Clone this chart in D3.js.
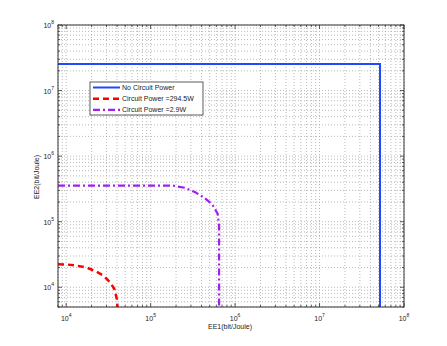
<!DOCTYPE html>
<html>
<head>
<meta charset="UTF-8">
<title>EE region</title>
<style>
  body { margin: 0; background: #fff; }
  text { font-family: "Liberation Sans", Arial, sans-serif; fill: #222; }
</style>
</head>
<body>
<div id="chart"></div>
<script src="https://cdn.jsdelivr.net/npm/d3@7"></script>
<script>
// data (EE1, EE2 in bit/Joule)
var noPowerX = [8000, 5.2e7, 5.2e7];
var noPowerY = [2.55e7, 2.55e7, 5000];

var cp294X = [8000, 1e4, 1.33e4, 1.75e4, 2.21e4, 2.76e4, 3.34e4, 3.73e4, 3.98e4, 4.05e4];
var cp294Y = [2.24e4, 2.23e4, 2.14e4, 1.99e4, 1.77e4, 1.51e4, 1.18e4, 9300, 6600, 5000];

var cp29X = [8000, 1.8e5, 2.54e5, 3.34e5, 4.31e5, 5.37e5, 6.22e5, 6.46e5, 6.46e5];
var cp29Y = [3.56e5, 3.56e5, 3.29e5, 2.83e5, 2.32e5, 1.83e5, 1.32e5, 8.8e4, 5000];

var legendLabels = ["No Circuit Power", "Circuit Power =294.5W", "Circuit Power =2.9W"];
var xTickExp = [4, 5, 6, 7, 8];
var yTickExp = [4, 5, 6, 7, 8];

var W = 447, H = 346;
var m = {left: 58, right: 43, top: 25, bottom: 39};

var svg = d3.select("#chart").append("svg").attr("width", W).attr("height", H);

var x = d3.scaleLog().domain([8000, 1e8]).range([m.left, W - m.right]);
var y = d3.scaleLog().domain([5000, 1e8]).range([H - m.bottom, m.top]);

// all tick positions (major + minor)
function logTicks(lo, hi) {
    var out = [];
    for (var e = 3; e <= 8; e++) {
        for (var k = 1; k <= 9; k++) {
            var v = k * Math.pow(10, e);
            if (v >= lo && v <= hi) out.push({v: v, major: k === 1});
        }
    }
    return out;
}
var xt = logTicks(8000, 1e8), yt = logTicks(5000, 1e8);

// grid
var g = svg.append("g");
g.selectAll(".gx").data(xt).enter().append("line")
    .attr("x1", function(d){ return x(d.v); }).attr("x2", function(d){ return x(d.v); })
    .attr("y1", m.top).attr("y2", H - m.bottom)
    .attr("stroke", "#aaa").attr("stroke-width", 0.8).attr("stroke-dasharray", "1,2");
g.selectAll(".gy").data(yt).enter().append("line")
    .attr("y1", function(d){ return y(d.v); }).attr("y2", function(d){ return y(d.v); })
    .attr("x1", m.left).attr("x2", W - m.right)
    .attr("stroke", "#aaa").attr("stroke-width", 0.8).attr("stroke-dasharray", "1,2");

// curves
var line = d3.line().x(function(d){ return x(d[0]); }).y(function(d){ return y(d[1]); });
var series = [
    {x: noPowerX, y: noPowerY, color: "#1f48ff", dash: null, w: 2},
    {x: cp294X, y: cp294Y, color: "#ff0000", dash: "6,4", w: 2.5},
    {x: cp29X, y: cp29Y, color: "#a020f0", dash: "7,3,2,3", w: 2.2}
];
series.forEach(function(s) {
    var pts = s.x.map(function(v, i){ return [v, s.y[i]]; });
    svg.append("path").attr("d", line(pts)).attr("fill", "none")
        .attr("stroke", s.color).attr("stroke-width", s.w)
        .attr("stroke-dasharray", s.dash);
});

// ticks inward on all four sides
var tk = svg.append("g").attr("stroke", "#333").attr("stroke-width", 0.8);
xt.forEach(function(d) {
    var len = d.major ? 4 : 2;
    tk.append("line").attr("x1", x(d.v)).attr("x2", x(d.v)).attr("y1", H - m.bottom).attr("y2", H - m.bottom - len);
    tk.append("line").attr("x1", x(d.v)).attr("x2", x(d.v)).attr("y1", m.top).attr("y2", m.top + len);
});
yt.forEach(function(d) {
    var len = d.major ? 4 : 2;
    tk.append("line").attr("y1", y(d.v)).attr("y2", y(d.v)).attr("x1", m.left).attr("x2", m.left + len);
    tk.append("line").attr("y1", y(d.v)).attr("y2", y(d.v)).attr("x1", W - m.right).attr("x2", W - m.right - len);
});

svg.append("rect").attr("x", m.left).attr("y", m.top)
    .attr("width", W - m.left - m.right).attr("height", H - m.top - m.bottom)
    .attr("fill", "none").attr("stroke", "#333").attr("stroke-width", 1);

// tick labels 10^n
xTickExp.forEach(function(e) {
    var t = svg.append("text").attr("x", x(Math.pow(10, e))).attr("y", H - m.bottom + 14)
        .attr("text-anchor", "middle").style("font-size", "7px");
    t.append("tspan").text("10");
    t.append("tspan").attr("dy", -4).style("font-size", "5px").text(e);
});
yTickExp.forEach(function(e) {
    var t = svg.append("text").attr("x", m.left - 4).attr("y", y(Math.pow(10, e)) + 3)
        .attr("text-anchor", "end").style("font-size", "7px");
    t.append("tspan").text("10");
    t.append("tspan").attr("dy", -4).style("font-size", "5px").text(e);
});

// axis titles
svg.append("text").attr("x", 230).attr("y", 329).attr("text-anchor", "middle")
    .style("font-size", "7px").text("EE1(bit/Joule)");
svg.append("text").attr("transform", "translate(39,177) rotate(-90)").attr("text-anchor", "middle")
    .style("font-size", "7px").text("EE2(bit/Joule)");

// legend
var lg = svg.append("g").attr("transform", "translate(90,82)");
lg.append("rect").attr("width", 113).attr("height", 33)
    .attr("fill", "#fff").attr("stroke", "#333").attr("stroke-width", 0.8);
legendLabels.forEach(function(lbl, i) {
    var yy = 5.5 + i * 11.2;
    lg.append("line").attr("x1", 3).attr("x2", 30).attr("y1", yy).attr("y2", yy)
        .attr("stroke", series[i].color).attr("stroke-width", series[i].w)
        .attr("stroke-dasharray", series[i].dash);
    lg.append("text").attr("x", 32).attr("y", yy + 2.5).style("font-size", "7px").text(lbl);
});
</script>
</body>
</html>
